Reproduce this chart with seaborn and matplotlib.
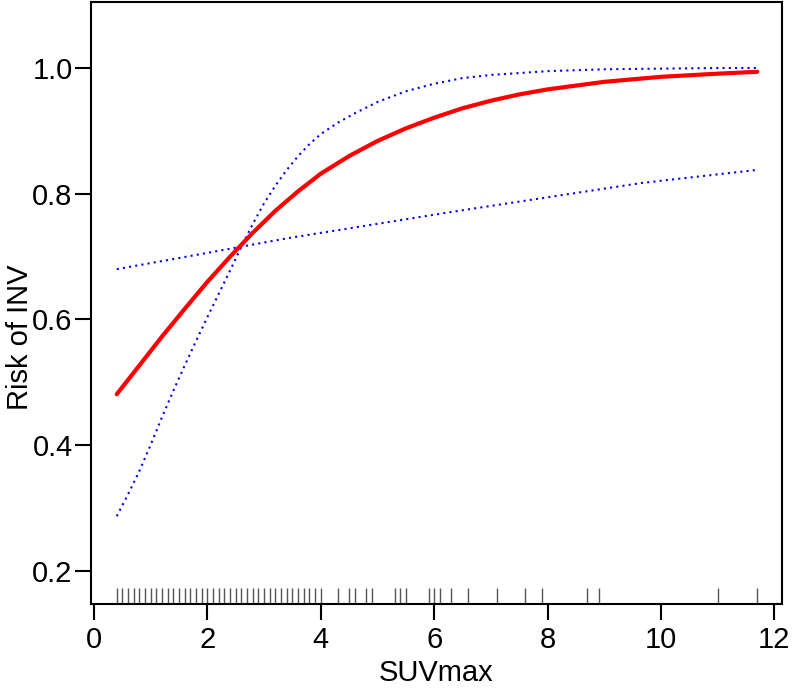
import numpy as np
import pandas as pd
import matplotlib
matplotlib.use("Agg")
import matplotlib.pyplot as plt
import seaborn as sns

# Fitted risk curve
fit_x = [0.4, 0.8, 1.2, 1.6, 2.0, 2.4, 2.8, 3.2, 3.6, 4.0, 4.5, 5.0, 5.5, 6.0, 6.5, 7.0, 7.5, 8.0, 9.0, 10.0, 11.0, 11.7]
fit_y = [0.481, 0.527, 0.573, 0.617, 0.660, 0.700, 0.738, 0.773, 0.804, 0.832, 0.860, 0.884, 0.904, 0.921, 0.936, 0.948, 0.958, 0.966, 0.978, 0.986, 0.991, 0.994]

# Confidence bound, steep curve
ci1_x = [0.4, 0.6, 0.8, 1.0, 1.2, 1.4, 1.6, 1.8, 2.0, 2.2, 2.4, 2.6, 2.8, 3.0, 3.2, 3.4, 3.6, 3.8, 4.0, 4.3, 4.6, 5.0, 5.5, 6.0, 6.5, 7.0, 8.0, 9.0, 10.0, 11.0, 11.7]
ci1_y = [0.287, 0.322, 0.359, 0.401, 0.445, 0.487, 0.527, 0.566, 0.604, 0.641, 0.678, 0.716, 0.752, 0.785, 0.813, 0.838, 0.860, 0.879, 0.895, 0.913, 0.928, 0.946, 0.963, 0.975, 0.984, 0.989, 0.995, 0.998, 0.999, 1.0, 1.0]

# Confidence bound, shallow curve
ci2_x = [0.4, 1.7, 3.4, 6.3, 9.65, 11.7]
ci2_y = [0.680, 0.701, 0.729, 0.771, 0.817, 0.838]

# Observed SUVmax values (rug)
rug_x = [round(0.4 + 0.1 * i, 1) for i in range(37)] + [
    4.3, 4.5, 4.6, 4.8, 4.9, 5.3, 5.4, 5.5, 5.9, 6.0, 6.1, 6.3, 6.6,
    7.1, 7.6, 7.9, 8.7, 8.9, 11.0, 11.7]

x_ticks = [0, 2, 4, 6, 8, 10, 12]
y_ticks = [0.2, 0.4, 0.6, 0.8, 1.0]

sns.set_theme(style="white")
plt.rcParams['font.family'] = ['Liberation Sans', 'DejaVu Sans']
plt.rcParams['text.color'] = 'black'
plt.rcParams['axes.labelcolor'] = 'black'
plt.rcParams['xtick.color'] = 'black'
plt.rcParams['ytick.color'] = 'black'

fig = plt.figure(figsize=(7.92, 6.88), dpi=100)
ax = fig.add_axes([0.1145, 0.1221, 0.8725, 0.8757])

fit = pd.DataFrame({"x": fit_x, "y": fit_y})
ci1 = pd.DataFrame({"x": ci1_x, "y": ci1_y})
ci2 = pd.DataFrame({"x": ci2_x, "y": ci2_y})

sns.lineplot(data=ci1, x="x", y="y", ax=ax, color="#0000FF", lw=1.5,
             linestyle=(0, (1, 2)), sort=True)
sns.lineplot(data=ci2, x="x", y="y", ax=ax, color="#0000FF", lw=1.5,
             linestyle=(0, (1, 2)), sort=True)
sns.lineplot(data=fit, x="x", y="y", ax=ax, color="#FF0000", lw=3, sort=True)
sns.rugplot(x=rug_x, ax=ax, height=0.027, color="#555555", lw=1.2)

ax.set_xlim(-0.06, 12.13)
ax.set_ylim(0.1473, 1.1058)
ax.set_xticks(x_ticks)
ax.set_xticklabels([str(t) for t in x_ticks])
ax.set_yticks(y_ticks)
ax.set_yticklabels([f"{t:.1f}" for t in y_ticks])

ax.tick_params(axis="both", which="major", direction="out", length=11.5,
               width=1.5, colors="black", labelsize=21,
               bottom=True, left=True)
ax.tick_params(axis="x", pad=4)
ax.tick_params(axis="y", pad=1.5)
for s in ax.spines.values():
    s.set_color("black")
    s.set_linewidth(1.5)

ax.set_xlabel("SUVmax", fontsize=21, color="black")
ax.set_ylabel("Risk of INV", fontsize=21, color="black")
ax.xaxis.label.set_verticalalignment("bottom")
ax.xaxis.set_label_coords(0.5, (604 - 687.0) / 602.5)
ax.yaxis.set_label_coords((33.5 - 90.7) / 691.3, 0.442)

fig.savefig("out.png", dpi=100)
